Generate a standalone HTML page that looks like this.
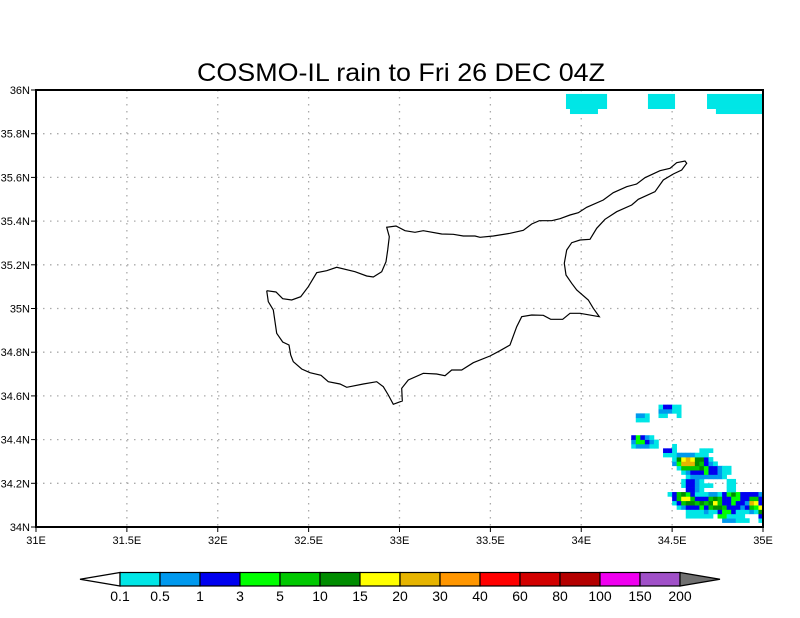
<!DOCTYPE html>
<html><head><meta charset="utf-8"><style>
html,body{margin:0;padding:0;background:#fff;}
svg{display:block;font-family:"Liberation Sans",sans-serif;}
</style></head><body>
<svg id="chart" width="800" height="618" viewBox="0 0 800 618" xmlns="http://www.w3.org/2000/svg">
<text x="401" y="81" font-size="25" text-anchor="middle" textLength="408" lengthAdjust="spacingAndGlyphs" fill="#000">COSMO-IL rain to Fri 26 DEC 04Z</text>
<g id="grid"></g>
<g id="rain"></g>
<g id="coast"></g>
<rect x="36" y="90" width="727" height="437" fill="none" stroke="#000" stroke-width="2"/>
<g id="axes"></g>
<g id="cbar"></g>
</svg>
<script>
const lonTicks=[31,31.5,32,32.5,33,33.5,34,34.5,35];
const lonLabels=["31E","31.5E","32E","32.5E","33E","33.5E","34E","34.5E","35E"];
const latTicks=[34,34.2,34.4,34.6,34.8,35,35.2,35.4,35.6,35.8,36];
const latLabels=["34N","34.2N","34.4N","34.6N","34.8N","35N","35.2N","35.4N","35.6N","35.8N","36N"];
const levels=["0.1","0.5","1","3","5","10","15","20","30","40","60","80","100","150","200"];
const levelColors=["#00e6e6","#0099ee","#0000f0","#00ff00","#00c800","#008c00","#ffff00","#e6b400","#ff9600","#ff0000","#d20000","#b40000","#f000f0","#a050c8"];
const codeColors={c:"#00e6e6",l:"#0099ee",b:"#0000f0",g:"#00ff00",G:"#00c800",D:"#008c00",y:"#ffff00",o:"#e6b400"};
// rain grid: cells of 0.025 lon x 0.02 lat; row index from lat 34 upward; strings start at column 130
const gridStartCol=130;
const rainRows={
27:".......cbbcc",
26:".......lllcc",
25:"..llc..cc..c",
24:"..ccc",
20:".bgblc",
19:".lggblc",
18:".clllcc...c",
17:"........bbc.....ccc",
16:"........cccllllccc",
15:"..........cDyoyDDbc",
14:"..........lgoooDGblc",
13:"...........cGGGGDgbblcc",
12:"............clbbbgbblcc",
11:".............clllllllc",
10:"............cbblc.....cc",
9:"............cbblccc...cc",
8:".............bblc.....cc",
7:".........cbGDgbcccllcbgDgbbbbl",
6:"..........bGyyGbbbGDGbbggbbGGb",
5:"..........cbGDDGDGDyGbbgbbloyb",
4:"...........clbbbgbGDDGbbblbGgy",
3:".............cccclccbggbccclcD",
2:".............cccccc.ggcccc...b",
1:".....................lllccc..c"
};
// top-edge patches (lon0, lon1, lat0, lat1)
const patchLon0=[33.916,33.938,34.367,34.692,34.741];
const patchLon1=[34.142,34.092,34.516,35.0,35.0];
const patchLat0=[35.913,35.890,35.913,35.913,35.890];
const patchLat1=[35.982,35.913,35.982,35.982,35.913];
// coastline in pixel coords of reference frame (basemap)
const coast=[[266.7,290.7],[276,292],[282.7,298.7],[291.7,300],[300.7,296.7],[308.3,286.7],[316.7,272.7],[326.7,270.7],[336.7,267.3],[355,271.7],[366.7,276],[373.3,277],[381.7,271.7],[386,261.7],[387.7,250],[389.3,236.7],[386.7,227.3],[396,226],[405,230.7],[415,232.3],[423.3,230.7],[441.7,234],[453.3,234.3],[463.3,236],[475,236],[480,237.3],[493.3,236],[510,233.3],[523.3,230.3],[531.7,224],[539.3,220.7],[551.7,220.7],[560,218.7],[570,215],[578.3,212.7],[586.7,207.3],[603.3,200],[613.3,192.7],[626.7,186.7],[636.7,184],[645,177.7],[660,170.7],[670,168.3],[676.7,162.7],[685,161],[686.7,163.3],[681.7,170],[673.3,174],[663.3,180],[655,191.7],[638.3,199.3],[631.7,205],[616.7,211.7],[605,219.3],[596.7,228.3],[590,239.3],[580,240],[571.7,242.7],[566.7,250],[564.3,263.3],[566,275],[571.7,283.3],[576.7,290],[588.3,300],[593.3,308.3],[599.3,316.7],[580,313.3],[570,313.3],[562.7,319.3],[550.7,319.3],[543.3,315.3],[531.7,315],[521.7,316.7],[516.7,326.7],[510,345],[500,350.7],[490,356],[473.3,362.7],[461.7,370],[451.7,370],[445,375.7],[436.7,374],[423.3,373.3],[408.3,380],[401.7,388.3],[402.3,401],[393.3,404.3],[388.3,395],[383.3,386.7],[376.7,381.7],[363.3,384],[346.7,387.3],[340,384],[328.3,381.7],[321,375.3],[310,372.7],[301.7,369],[293.3,361.7],[290.7,355],[289,345],[282.7,342],[276.7,333.3],[273.3,310],[268.3,301.7],[266.7,290.7]];

const NS="http://www.w3.org/2000/svg";
const X0=36,X1=763,Y0=90,Y1=527;
function xs(lon){return X0+(lon-31)/4*(X1-X0);}
function ys(lat){return Y1-(lat-34)/2*(Y1-Y0);}
function mk(tag,attrs,parent){const e=document.createElementNS(NS,tag);for(const k in attrs)e.setAttribute(k,attrs[k]);parent.appendChild(e);return e;}

const grid=document.getElementById('grid');
lonTicks.forEach((v,i)=>{ if(i>0&&i<lonTicks.length-1){
  const l=mk('line',{x1:xs(v),x2:xs(v),y1:Y0,y2:Y1,stroke:'#aaa','stroke-width':1.3,'stroke-dasharray':'1.5 5.5'},grid);
  
  }});
latTicks.forEach((v,i)=>{ if(i>0&&i<latTicks.length-1){
  const l=mk('line',{x1:X0,x2:X1,y1:ys(v),y2:ys(v),stroke:'#aaa','stroke-width':1.3,'stroke-dasharray':'1.5 5.5'},grid);
  
  }});

const rain=document.getElementById('rain');
const dLon=0.025,dLat=0.02;
for(const r in rainRows){
  const s=rainRows[r];
  for(let i=0;i<s.length;i++){
    const ch=s[i]; if(!codeColors[ch])continue;
    const col=gridStartCol+i;
    const lon=31+col*dLon, lat=34+Number(r)*dLat;
    const x=xs(lon), y=ys(lat+dLat);
    const w=Math.min(xs(lon+dLon),X1)-x;
    if(w<=0)continue;
    const c=mk('rect',{x:x,y:y,width:w+0.3,height:ys(lat)-y+0.3,fill:codeColors[ch]},rain);
    
    
  }
}
patchLon0.forEach((v,i)=>{
  const p=mk('rect',{x:xs(v),y:ys(patchLat1[i]),width:xs(patchLon1[i])-xs(v),height:ys(patchLat0[i])-ys(patchLat1[i]),fill:'#00e6e6'},rain);
  
  
});

const cg=document.getElementById('coast');
const pl=mk('polyline',{points:coast.map(p=>p.join(',')).join(' '),fill:'none',stroke:'#000','stroke-width':1.2},cg);



const ax=document.getElementById('axes');
lonTicks.forEach((v,i)=>{
  mk('line',{x1:xs(v),x2:xs(v),y1:Y1,y2:Y1+5,stroke:'#000','stroke-width':1},ax);
  const t=mk('text',{x:xs(v),y:Y1+17,'font-size':11,'text-anchor':'middle',fill:'#000'},ax);
  t.textContent=lonLabels[i];
  
  
});
latTicks.forEach((v,i)=>{
  mk('line',{x1:X0-5,x2:X0,y1:ys(v),y2:ys(v),stroke:'#000','stroke-width':1},ax);
  const t=mk('text',{x:X0-6,y:ys(v)+4,'font-size':11,'text-anchor':'end',fill:'#000'},ax);
  t.textContent=latLabels[i];
  
  
});

const cb=document.getElementById('cbar');
const CB0=120,CBW=40,CBY=572.5,CBH=13.5;
const lt=mk('polygon',{points:`${CB0},${CBY} ${CB0},${CBY+CBH} 80,${CBY+CBH/2}`,fill:'#fff',stroke:'#000','stroke-width':1.2},cb);


levelColors.forEach((c,i)=>{
  const r=mk('rect',{x:CB0+i*CBW,y:CBY,width:CBW,height:CBH,fill:c,stroke:'#000','stroke-width':1.2},cb);
  
  
});
const xe=CB0+levelColors.length*CBW;
const rt=mk('polygon',{points:`${xe},${CBY} ${xe},${CBY+CBH} 720,${CBY+CBH/2}`,fill:'#707070',stroke:'#000','stroke-width':1.2},cb);


levels.forEach((s,i)=>{
  const t=mk('text',{x:CB0+i*CBW,y:601,'font-size':14,'text-anchor':'middle',fill:'#000'},cb);
  t.textContent=s;
  
  
});
</script>
</body></html>
